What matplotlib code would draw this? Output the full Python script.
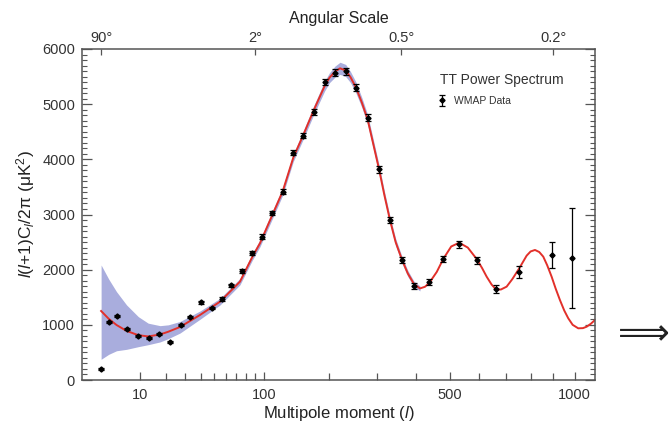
import numpy as np
import matplotlib
matplotlib.use("Agg")
import matplotlib.pyplot as plt
from matplotlib.ticker import FixedLocator, NullFormatter, NullLocator

plt.rcParams['font.family'] = ['Liberation Sans', 'DejaVu Sans']
plt.rcParams['mathtext.fontset'] = 'custom'
plt.rcParams['mathtext.rm'] = 'Liberation Sans'
plt.rcParams['mathtext.it'] = 'Liberation Sans:italic'

# ---- WMAP binned data ----
data_l = [2, 3, 4.4, 6.4, 9.5, 12.9, 16.9, 21.8, 27.4, 33.1, 40.4, 48.4, 56.7, 65.1,
          75.6, 86.6, 98.4, 110.9, 124.6, 139.8, 155.1, 172.6, 191.2, 210.3, 231.2,
          252.4, 277.9, 303.9, 330.7, 361.4, 393.8, 437.5, 479.9, 531.3, 590.8,
          661.3, 752.8, 892, 988]
data_v = [194, 1052, 1155, 919, 792, 767, 834, 694, 1003, 1137, 1409, 1305, 1469, 1717,
          1971, 2297, 2600, 3030, 3414, 4121, 4429, 4864, 5403, 5571, 5597,
          5299, 4756, 3820, 2900, 2175, 1704, 1777, 2194, 2460, 2170,
          1650, 1953, 2266, 2206]
data_err = [20, 20, 20, 20, 20, 20, 20, 20, 20, 20, 25, 25, 30, 30,
            35, 35, 40, 40, 45, 50, 50, 55, 55, 60, 60,
            60, 60, 60, 55, 55, 55, 55, 60, 60, 60,
            70, 110, 240, 906]

# ---- best-fit model curve ----
curve_l = [2, 3, 4.3, 6.4, 9.5, 12.7, 17.3, 21, 27, 39.5, 55, 73.5, 86.6, 95.4, 111,
           124.6, 139.8, 155.1, 172.6, 191.2, 200, 210.3, 220, 231.2, 241, 252.4, 265,
           277.9, 290, 303.9, 317, 330.7, 345, 361.4, 377, 393.8, 410.6, 425, 437.5,
           460, 479.9, 505, 531.3, 560, 590.8, 610, 626.7, 645, 661.3, 680, 702.3, 725,
           752.8, 783.3, 800, 818.6, 837, 854.6, 872, 891.9, 910, 929.9, 950, 968.9,
           990, 1017, 1040, 1058.7, 1080, 1101]
curve_v = [1251, 1110, 997, 890, 812, 790, 825, 875, 960, 1178, 1420, 1782, 2230, 2478, 3000,
           3420, 4030, 4440, 4900, 5330, 5480, 5590, 5650, 5610, 5490, 5300, 5030,
           4720, 4300, 3830, 3350, 2900, 2500, 2180, 1930, 1740, 1660, 1690, 1760,
           1960, 2194, 2420, 2489, 2400, 2194, 2030, 1873, 1730, 1644, 1640, 1692, 1830,
           2025, 2254, 2330, 2357, 2320, 2236, 2080, 1873, 1660, 1450, 1260, 1119,
           1000, 937, 940, 966, 1020, 1088]

# ---- cosmic variance band ----
band_l = [2, 3, 4.3, 6.4, 9.5, 12.7, 17.3, 21, 27, 39.5, 55, 73.5, 86.6, 95.4, 111,
          124.6, 139.8, 155.1, 172.6, 191.2, 200, 210.3, 220, 231.2, 241, 252.4, 265,
          277.9, 290, 303.9, 317, 330.7, 345, 361.4, 377, 393.8, 410.6]
band_hi = [2085, 1830, 1601, 1360, 1148, 1030, 985, 1000, 1060, 1250, 1480, 1840, 2290,
           2540, 3070, 3490, 4100, 4515, 4980, 5420, 5570, 5690, 5760, 5720, 5590, 5400,
           5120, 4810, 4385, 3910, 3425, 2970, 2565, 2240, 1985, 1790, 1705]
band_lo = [375, 465, 530, 556, 604, 640, 690, 750, 850, 1100, 1360, 1725, 2170,
           2415, 2930, 3350, 3960, 4365, 4820, 5240, 5390, 5490, 5540, 5500, 5390, 5200,
           4940, 4630, 4215, 3750, 3275, 2830, 2435, 2120, 1875, 1690, 1615]

top_ticks_l = [2, 90, 360, 900]
top_labels = ['90°', '2°', '0.5°', '0.2°']
bottom_major = [10, 100, 500, 1000]
bottom_minor = [20, 30, 40, 50, 60, 70, 80, 90, 200, 300, 400, 600, 700, 800, 900]

def fwd(x):
    x = np.asarray(x, dtype=float)
    return np.sign(x) * np.abs(x) ** 0.4

def inv(x):
    x = np.asarray(x, dtype=float)
    return np.sign(x) * np.abs(x) ** 2.5

W, H = 671, 426
fig = plt.figure(figsize=(W / 100, H / 100), dpi=100)
ax = fig.add_axes([82 / W, 1 - 380 / H, (595 - 82) / W, (380 - 49) / H])
ax.set_xscale('function', functions=(fwd, inv))

ax.fill_between(band_l, band_lo, band_hi, color='#a9addd', lw=0, zorder=1)
ax.plot(curve_l, curve_v, color='#e2302a', lw=1.4, zorder=2)
eb = ax.errorbar(data_l, data_v, yerr=data_err, fmt='D', ms=2.6, color='black',
                 ecolor='black', elinewidth=0.9, capsize=2.2, capthick=0.9, zorder=3)

ax.set_xlim(0.46, 1101)
ax.set_ylim(0, 6000)

spine_c = '#555555'
for s in ax.spines.values():
    s.set_color(spine_c)
    s.set_linewidth(1.1)

ax.xaxis.set_major_locator(FixedLocator(bottom_major))
ax.xaxis.set_minor_locator(FixedLocator(bottom_minor))
ax.set_xticklabels([str(v) for v in bottom_major])
ax.xaxis.set_minor_formatter(NullFormatter())
ax.yaxis.set_major_locator(FixedLocator(np.arange(0, 6001, 1000)))
ax.yaxis.set_minor_locator(FixedLocator(np.arange(0, 6001, 100)))

ax.tick_params(axis='x', which='major', direction='in', length=6, width=0.9,
               color=spine_c, labelsize=10.5, labelcolor='#333333', pad=6, top=False)
ax.tick_params(axis='x', which='minor', direction='in', length=5, width=0.9,
               color=spine_c, top=False)
ax.tick_params(axis='y', which='major', direction='in', length=7, width=0.9,
               color=spine_c, labelsize=10.5, labelcolor='#333333', pad=5, right=True)
ax.tick_params(axis='y', which='minor', direction='in', length=3.5, width=0.8,
               color=spine_c, right=True)

ax.set_xlabel('Multipole moment ($l$)', fontsize=12, color='#222222', labelpad=1)
ax.set_ylabel(r'$l$($l$+1)C$_l$/2π (μK$^2$)', fontsize=12.5, color='#222222', labelpad=4)

ax2 = ax.twiny()
ax2.set_xscale('function', functions=(fwd, inv))
ax2.set_xlim(ax.get_xlim())
ax2.xaxis.set_major_locator(FixedLocator(top_ticks_l))
ax2.xaxis.set_minor_locator(NullLocator())
ax2.set_xticklabels(top_labels)
ax2.tick_params(axis='x', which='major', direction='in', length=4, width=0.9,
                color=spine_c, labelsize=10.5, labelcolor='#333333', pad=3)
for s in ax2.spines.values():
    s.set_visible(False)
ax2.set_xlabel('Angular Scale', fontsize=11.5, color='#222222', labelpad=6)

ax.text((440 - 82) / 513, (380 - 80) / 331, 'TT Power Spectrum', transform=ax.transAxes,
        ha='left', va='center', fontsize=10, color='#333333')
leg = ax.legend([eb], ['WMAP Data'], loc='center left',
                bbox_to_anchor=((437 - 82) / 513, (380 - 101) / 331), frameon=False,
                fontsize=7.5, handlelength=0.9, handletextpad=0.7, borderpad=0,
                borderaxespad=0)
for t in leg.get_texts():
    t.set_color('#333333')

fig.text(644 / W, 1 - 334 / H, '⟹', ha='center', va='center', fontsize=26,
         family=['DejaVu Sans'], color='#222222')

fig.savefig('out.png', dpi=100)
